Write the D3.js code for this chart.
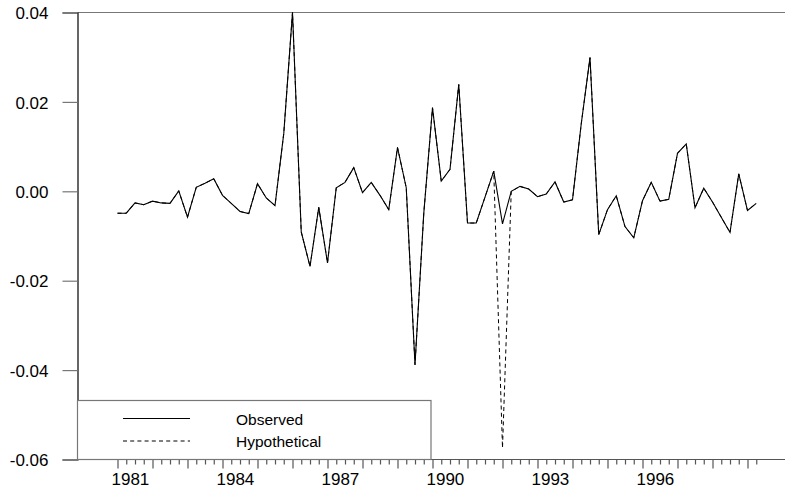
<!DOCTYPE html>
<html>
<head>
<meta charset="utf-8">
<script src="https://cdn.jsdelivr.net/npm/d3@7"></script>
<style>
  html, body { margin: 0; padding: 0; background: #fff; }
  svg { display: block; font-family: "Liberation Sans", Arial, sans-serif; }
</style>
</head>
<body>
<svg id="chart" width="785" height="492"></svg>
<script>
// quarterly series, 1981Q1 .. 1999Q2
const startYear = 1981;
const observed = [
  -0.0049, -0.0049, -0.0026, -0.0030, -0.0022, -0.0026, -0.0027, 0.0001,
  -0.0058, 0.0009, 0.0018, 0.0028, -0.0009, -0.0027, -0.0045, -0.0050,
  0.0017, -0.0015, -0.0032, 0.0129, 0.0400, -0.0091, -0.0168, -0.0036,
  -0.0160, 0.0008, 0.0020, 0.0053, -0.0003, 0.0020, -0.0009, -0.0041,
  0.0098, 0.0008, -0.0388, -0.0050, 0.0187, 0.0023, 0.0049, 0.0239,
  -0.0071, -0.0071, -0.0013, 0.0045, -0.0073, 0.0000, 0.0011, 0.0005,
  -0.0012, -0.0006, 0.0021, -0.0024, -0.0019, 0.0151, 0.0299, -0.0097,
  -0.0041, -0.0010, -0.0079, -0.0104, -0.0021, 0.0020, -0.0022, -0.0018,
  0.0085, 0.0106, -0.0037, 0.0007, -0.0024, -0.0058, -0.0092, 0.0039,
  -0.0043, -0.0027
];
const hypothetical = [
  -0.0049, -0.0049, -0.0026, -0.0030, -0.0022, -0.0026, -0.0027, 0.0001,
  -0.0058, 0.0009, 0.0018, 0.0028, -0.0009, -0.0027, -0.0045, -0.0050,
  0.0017, -0.0015, -0.0032, 0.0129, 0.0400, -0.0091, -0.0168, -0.0036,
  -0.0160, 0.0008, 0.0020, 0.0053, -0.0003, 0.0020, -0.0009, -0.0041,
  0.0098, 0.0008, -0.0388, -0.0050, 0.0187, 0.0023, 0.0049, 0.0239,
  -0.0071, -0.0071, -0.0013, 0.0045, -0.0574, 0.0000, 0.0011, 0.0005,
  -0.0012, -0.0006, 0.0021, -0.0024, -0.0019, 0.0151, 0.0299, -0.0097,
  -0.0041, -0.0010, -0.0079, -0.0104, -0.0021, 0.0020, -0.0022, -0.0018,
  0.0085, 0.0106, -0.0037, 0.0007, -0.0024, -0.0058, -0.0092, 0.0039,
  -0.0043, -0.0027
];
const yTicks = [-0.06, -0.04, -0.02, 0.00, 0.02, 0.04];
const yearLabels = [1981, 1984, 1987, 1990, 1993, 1996];
const legendItems = [
  { label: 'Observed', dash: null },
  { label: 'Hypothetical', dash: '4,3.2' }
];

const W = 785, H = 492;
const plotLeft = 77.5, plotTop = 12.5, plotBottom = 459.5;
const gray = '#777';

const svg = d3.select('#chart');

// time index for each quarter
const t = observed.map((_, i) => startYear + i / 4);

const x = d3.scaleLinear().domain([1981, 1999]).range([117.5, 747.5]);
const y = d3.scaleLinear().domain([-0.06, 0.04]).range([plotBottom, plotTop]);

// plain hyphen for negatives, like the original
const fmt = d => d3.format('.2f')(d).replace('\u2212', '-');

// top border line
svg.append('line')
  .attr('x1', plotLeft).attr('x2', W)
  .attr('y1', y(0.04)).attr('y2', y(0.04))
  .attr('stroke', gray).attr('stroke-width', 1.2);

// bottom axis line
svg.append('line')
  .attr('x1', plotLeft).attr('x2', W)
  .attr('y1', y(-0.06)).attr('y2', y(-0.06))
  .attr('stroke', '#555').attr('stroke-width', 1.2);

// y axis
const yAxis = svg.append('g')
  .attr('transform', `translate(${plotLeft},0)`)
  .call(d3.axisLeft(y).tickValues(yTicks).tickSize(15).tickPadding(14)
    .tickFormat(fmt));
yAxis.select('.domain').attr('stroke', '#000').attr('stroke-width', 1.2);
yAxis.selectAll('.tick line').attr('stroke', gray).attr('stroke-width', 1.2);
yAxis.selectAll('.tick text')
  .attr('fill', '#000')
  .style('font-size', '17px')
  .attr('dy', '0.36em');

// x axis with quarterly ticks
const xAxis = svg.append('g')
  .attr('transform', `translate(0,${y(-0.06)})`)
  .call(d3.axisBottom(x).tickValues(t).tickSize(5).tickFormat(''));
xAxis.select('.domain').remove();
xAxis.selectAll('.tick line')
  .attr('stroke', '#555').attr('stroke-width', 1.2)
  .attr('y2', (d, i) => i % 4 === 0 ? 9 : 5);

svg.append('g').selectAll('text')
  .data(yearLabels)
  .join('text')
  .attr('x', d => x(d) - 6)
  .attr('y', 485)
  .attr('text-anchor', 'start')
  .style('font-size', '17px')
  .attr('fill', '#000')
  .text(d => d);

// series
const line = d3.line()
  .x((d, i) => x(t[i]))
  .y(d => y(d));

svg.append('path')
  .datum(hypothetical)
  .attr('d', line)
  .attr('fill', 'none')
  .attr('stroke', '#000')
  .attr('stroke-width', 1)
  .attr('stroke-dasharray', '4,3.2');

svg.append('path')
  .datum(observed)
  .attr('d', line)
  .attr('fill', 'none')
  .attr('stroke', '#000')
  .attr('stroke-width', 1.1);

// legend box
const legend = svg.append('g');
legend.append('rect')
  .attr('x', plotLeft).attr('y', 400.5)
  .attr('width', 431 - plotLeft).attr('height', y(-0.06) - 400.5)
  .attr('fill', '#fff')
  .attr('stroke', gray).attr('stroke-width', 1.2);

legendItems.forEach((item, i) => {
  const ly = 418.5 + i * 22.5;
  legend.append('line')
    .attr('x1', 123).attr('x2', 190)
    .attr('y1', ly).attr('y2', ly)
    .attr('stroke', '#000').attr('stroke-width', 1)
    .attr('stroke-dasharray', item.dash);
  legend.append('text')
    .attr('x', 236).attr('y', ly + 6)
    .style('font-size', '15.5px')
    .attr('fill', '#000')
    .text(item.label);
});
</script>
</body>
</html>
